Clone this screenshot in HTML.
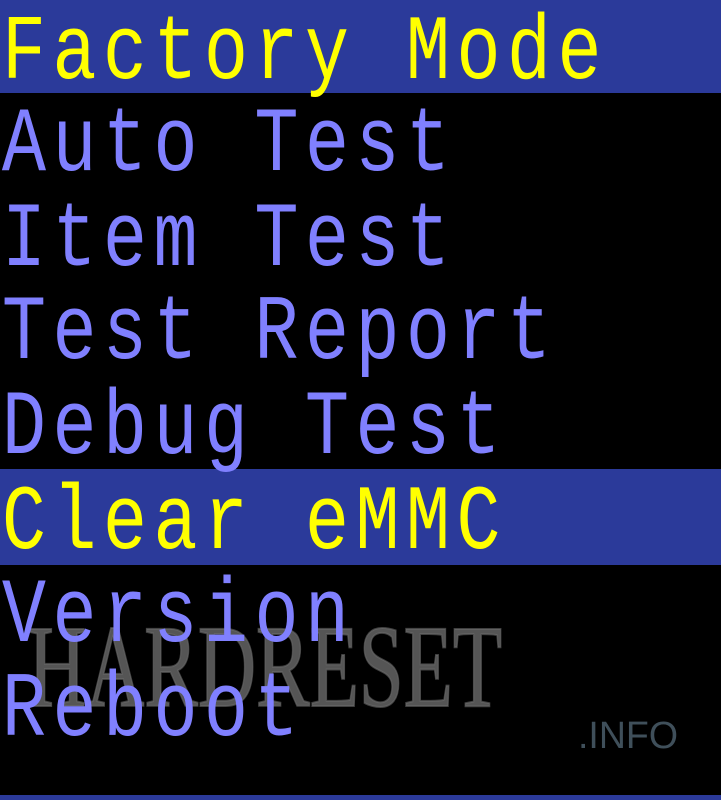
<!DOCTYPE html>
<html><head><style>
html,body{margin:0;padding:0;background:#000;width:721px;height:800px;overflow:hidden}
</style></head><body>
<svg width="721" height="800" xmlns="http://www.w3.org/2000/svg" style="display:block">
<rect width="721" height="800" fill="#000"/>
<rect x="0" y="0" width="721" height="93" fill="#2b3a9a"/>
<rect x="0" y="469" width="721" height="96" fill="#2b3a9a"/>
<rect x="0" y="795" width="721" height="5" fill="#2b3a9a"/>
<text x="28" y="706" font-family="Liberation Serif, serif" font-size="118" fill="#6a6a6a" fill-opacity="0.8" stroke="#6a6a6a" stroke-opacity="0.6" stroke-width="2" textLength="474" lengthAdjust="spacingAndGlyphs">HARDRESET</text>
<text x="578" y="748" font-family="Liberation Sans, sans-serif" font-size="38" fill="#3f4f5a" textLength="100" lengthAdjust="spacingAndGlyphs">.INFO</text>
<g font-family="Liberation Mono, monospace" font-size="92" text-anchor="middle" transform="scale(0.8,1)">
<text x="30 93.1 156.25 219.4 282.5 345.6 408.75 471.9 535 598.1 661.25 724.4" y="78" fill="#ffff00">Factory Mode</text>
<text x="30 93.1 156.25 219.4 282.5 345.6 408.75 471.9 535" y="170" fill="#8080ff">Auto Test</text>
<text x="30 93.1 156.25 219.4 282.5 345.6 408.75 471.9 535" y="265" fill="#8080ff">Item Test</text>
<text x="30 93.1 156.25 219.4 282.5 345.6 408.75 471.9 535 598.1 661.25" y="358" fill="#8080ff">Test Report</text>
<text x="30 93.1 156.25 219.4 282.5 345.6 408.75 471.9 535 598.1" y="453" fill="#8080ff">Debug Test</text>
<text x="30 93.1 156.25 219.4 282.5 345.6 408.75 471.9 535 598.1" y="548" fill="#ffff00">Clear eMMC</text>
<text x="30 93.1 156.25 219.4 282.5 345.6 408.75" y="641" fill="#8080ff">Version</text>
<text x="30 93.1 156.25 219.4 282.5 345.6" y="735" fill="#8080ff">Reboot</text>
</g>
</svg>
</body></html>
